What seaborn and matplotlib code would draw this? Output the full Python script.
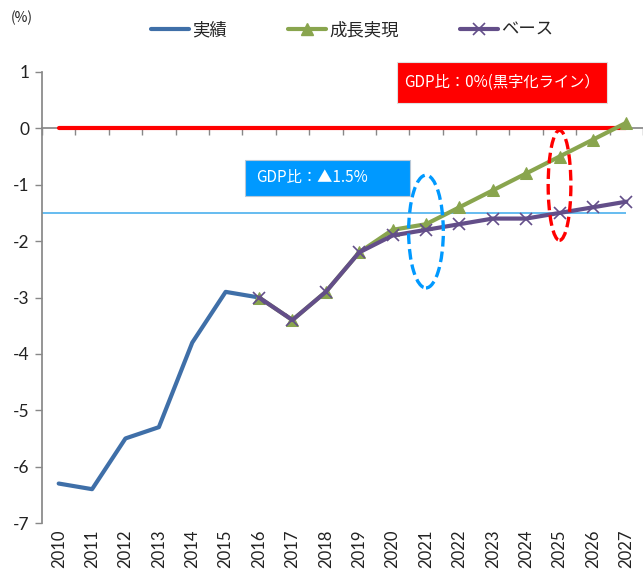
import matplotlib
matplotlib.use("Agg")
import matplotlib.pyplot as plt
from matplotlib.patches import Ellipse, Rectangle
from matplotlib.lines import Line2D
import seaborn as sns
import pandas as pd
import numpy as np

# Fiscal balance, % of GDP
years = [str(y) for y in range(2010, 2028)]
actual_years = years[:7]
actual = [-6.3, -6.4, -5.5, -5.3, -3.8, -2.9, -3.0]
proj_years = years[6:]
growth = [-3.0, -3.4, -2.9, -2.2, -1.8, -1.7, -1.4, -1.1, -0.8, -0.5, -0.2, 0.1]
base = [-3.0, -3.4, -2.9, -2.2, -1.9, -1.8, -1.7, -1.6, -1.6, -1.5, -1.4, -1.3]
surplus_line = 0.0
target_line = -1.5
y_ticks = list(range(-7, 2))

sns.set_theme(style="white")
plt.rcParams["font.family"] = ["Noto Sans CJK JP", "DejaVu Sans"]
plt.rcParams["axes.unicode_minus"] = False

idx = {y: i for i, y in enumerate(years)}
df_act = pd.DataFrame({"x": [idx[y] for y in actual_years], "v": actual})
df_gro = pd.DataFrame({"x": [idx[y] for y in proj_years], "v": growth})
df_bas = pd.DataFrame({"x": [idx[y] for y in proj_years], "v": base})
df_zero = pd.DataFrame({"x": [idx[y] for y in years], "v": [surplus_line] * len(years)})

c_act = "#3F6FA8"
c_gro = "#89A54E"
c_bas = "#634E89"
c_red = "#FF0000"
c_sky = "#0099FF"

fig = plt.figure(figsize=(6.43, 5.73), dpi=100)
ax = fig.add_axes([42 / 643, 1 - 523 / 573, 1 - 42 / 643, (523 - 72) / 573])

ax.hlines(target_line, -0.5, len(years) - 1, color="#4BB0EE", lw=1.2, zorder=1)
sns.lineplot(data=df_zero, x="x", y="v", ax=ax, color=c_red, lw=3, zorder=3)
sns.lineplot(data=df_act, x="x", y="v", ax=ax, color=c_act, lw=3, zorder=3)
sns.lineplot(data=df_gro, x="x", y="v", ax=ax, color=c_gro, lw=3, marker="^",
             markersize=9, markeredgecolor=c_gro, zorder=4)
sns.lineplot(data=df_bas, x="x", y="v", ax=ax, color=c_bas, lw=3, marker="x",
             markersize=9, markeredgewidth=1.2, markeredgecolor=c_bas, zorder=5)

ax.set_xlim(-0.5, -0.5 + (643 - 42) / 33.7)
ax.set_ylim(-7, 1)
ax.set_xlabel("")
ax.set_ylabel("")

# y axis
ax.set_yticks(y_ticks)
ax.set_yticklabels([str(t) for t in y_ticks], fontsize=12.5, color="#222222",
                   family=["Lato", "DejaVu Sans"])
ax.tick_params(axis="y", direction="out", length=5, width=1, color="#888888",
               left=True, pad=4)
for s in ["top", "right"]:
    ax.spines[s].set_visible(False)
ax.spines["left"].set_color("#888888")

# category axis crossing at zero, with boundary ticks
ax.spines["bottom"].set_position(("data", 0))
ax.spines["bottom"].set_color("#888888")
ax.set_xticks([])
ax.set_xticks(np.arange(-0.5, len(years) + 0.5, 1), minor=True)
ax.tick_params(axis="x", which="minor", direction="out", length=5, width=1,
               color="#888888", bottom=True, labelbottom=False)

sec = ax.secondary_xaxis(0)
sec.set_xticks(range(len(years)))
sec.set_xticklabels(years, rotation=90, fontsize=12, color="#222222",
                    family=["Lato", "DejaVu Sans"])
sec.tick_params(length=0, pad=5)
sec.spines["bottom"].set_visible(False)

# dashed highlight rings
ax.add_patch(Ellipse((idx["2021"], -1.83), 1.04, 2.0, fill=False, ls=(0, (3.2, 1.5)),
                     lw=2.4, edgecolor=c_sky, zorder=6))
ax.add_patch(Ellipse((idx["2025"], -1.01), 0.68, 1.95, fill=False, ls=(0, (3.2, 1.5)),
                     lw=2.4, edgecolor=c_red, zorder=6))

# callout boxes
fig.patches.append(Rectangle((397 / 643, 1 - 103 / 573), 210 / 643, 41 / 573,
                             transform=fig.transFigure, facecolor=c_red,
                             edgecolor="#E0E0E0", lw=0.8, zorder=7))
fig.text(502 / 643, 1 - 82 / 573, "GDP比：0%(黒字化ライン）", color="white",
         fontsize=11, ha="center", va="center", zorder=8)
fig.patches.append(Rectangle((245 / 643, 1 - 196 / 573), 165 / 643, 36 / 573,
                             transform=fig.transFigure, facecolor=c_sky,
                             edgecolor="#B8C8D8", lw=0.8, zorder=7))
fig.text(256 / 643, 1 - 178 / 573, "GDP比：▲1.5%", color="white",
         fontsize=11, ha="left", va="center", zorder=8)

# unit label
fig.text(22 / 643, 1 - 18 / 573, "(%)", fontsize=10, ha="center", va="center",
         color="#222222")

handles = [
    Line2D([], [], color=c_act, lw=3),
    Line2D([], [], color=c_gro, lw=3, marker="^", markersize=9),
    Line2D([], [], color=c_bas, lw=3, marker="x", markersize=9, markeredgewidth=1.2),
]
fig.legend(handles, ["実績", "成長実現", "ベース"], loc="center",
           bbox_to_anchor=(352 / 643, 1 - 30 / 573), ncol=3, frameon=False,
           fontsize=12.5, handlelength=2.2, handletextpad=0.2, columnspacing=3.5)

fig.savefig("out.png", dpi=100)
